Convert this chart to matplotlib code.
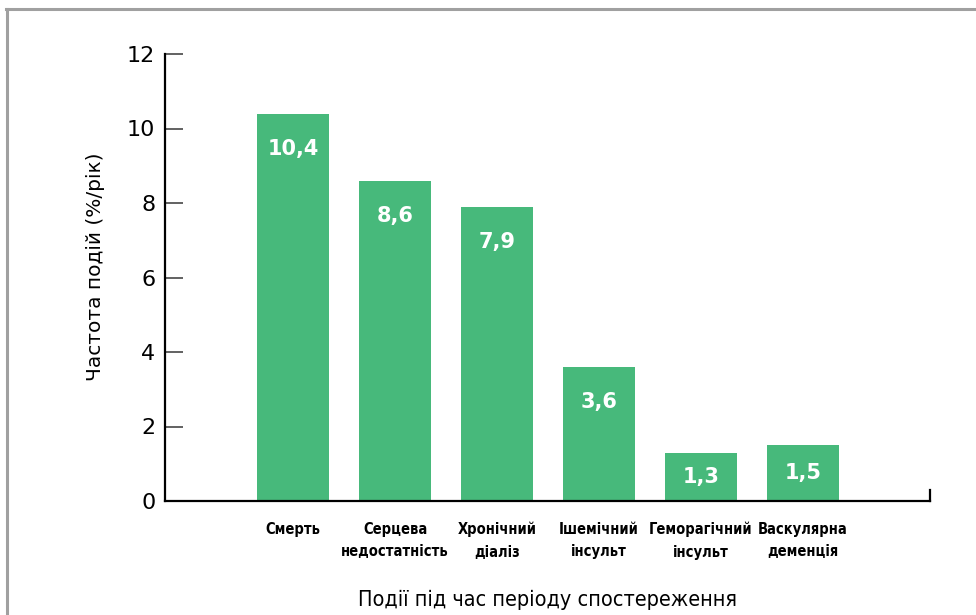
import matplotlib
matplotlib.use("Agg")
import matplotlib.pyplot as plt
from matplotlib.lines import Line2D

categories = ["Смерть", "Серцева\nнедостатність", "Хронічний\nдіаліз",
              "Ішемічний\nінсульт", "Геморагічний\nінсульт", "Васкулярна\nдеменція"]
values = [10.4, 8.6, 7.9, 3.6, 1.3, 1.5]
value_labels = ["10,4", "8,6", "7,9", "3,6", "1,3", "1,5"]
yticks = [0, 2, 4, 6, 8, 10, 12]
ylabel = "Частота подій (%/рік)"
xlabel = "Події під час періоду спостереження"

bar_color = "#47B97B"

fig = plt.figure(figsize=(9.76, 6.15), dpi=100)
ax = fig.add_axes([165/976, 1-501/615, (930-165)/976, (501-54)/615])

x = list(range(len(values)))
ax.bar(x, values, width=0.706, color=bar_color, zorder=2)

for xi, v, lab in zip(x, values, value_labels):
    y = v - 0.95 if v > 2 else v / 2
    ax.text(xi, y, lab, ha="center", va="center", color="white",
            fontsize=15, fontweight="bold", family="DejaVu Sans")

ax.set_xlim(-1.255, 6.245)
ax.set_ylim(0, 12)
ax.set_yticks(yticks)
ax.set_yticklabels([str(t) for t in yticks], fontsize=16, family="DejaVu Sans")
ax.tick_params(axis="y", direction="in", length=13, width=1.3, color="#555555", pad=7)

ax.set_xticks(x)
ax.set_xticklabels(categories, fontsize=10.5, linespacing=1.6,
                   family="DejaVu Sans", fontstretch="condensed", fontweight="bold")
ax.tick_params(axis="x", length=0, pad=15)

ax.spines["top"].set_visible(False)
ax.spines["right"].set_bounds(0, 0.3)
for s in ["left", "bottom", "right"]:
    ax.spines[s].set_linewidth(1.6)
    ax.spines[s].set_color("black")

ax.set_ylabel(ylabel, fontsize=14.5, family="DejaVu Sans")
ax.yaxis.set_label_coords(-0.078, 0.523)
ax.set_xlabel(xlabel, fontsize=15.5, family="DejaVu Sans", fontstretch="condensed",
              labelpad=22)

# figure frame (top and left)
fig.add_artist(Line2D([6/976, 1], [1-9/615, 1-9/615], transform=fig.transFigure,
                      color="#A0A0A0", linewidth=2.2))
fig.add_artist(Line2D([7/976, 7/976], [0, 1-9/615], transform=fig.transFigure,
                      color="#A0A0A0", linewidth=2.2))

fig.savefig("out.png", dpi=100)
